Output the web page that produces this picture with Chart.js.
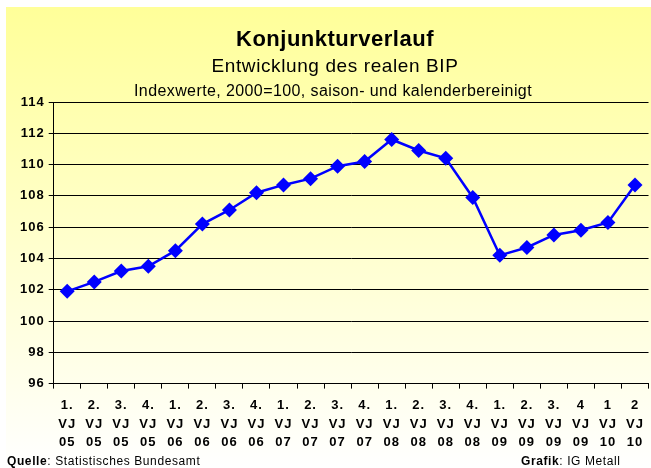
<!DOCTYPE html>
<html>
<head>
<meta charset="utf-8">
<script src="https://cdn.jsdelivr.net/npm/chart.js@4.4.1/dist/chart.umd.min.js"></script>
<style>
  html, body { margin: 0; padding: 0; background: #fff; }
  #wrap { width: 651px; height: 468px; }
</style>
</head>
<body>
<div id="wrap"><canvas id="bipChart" width="651" height="468"></canvas></div>
<script>
// ===== Data =====
const quarters = [
  ["1.", "VJ", "05"], ["2.", "VJ", "05"], ["3.", "VJ", "05"], ["4.", "VJ", "05"],
  ["1.", "VJ", "06"], ["2.", "VJ", "06"], ["3.", "VJ", "06"], ["4.", "VJ", "06"],
  ["1.", "VJ", "07"], ["2.", "VJ", "07"], ["3.", "VJ", "07"], ["4.", "VJ", "07"],
  ["1.", "VJ", "08"], ["2.", "VJ", "08"], ["3.", "VJ", "08"], ["4.", "VJ", "08"],
  ["1.", "VJ", "09"], ["2.", "VJ", "09"], ["3.", "VJ", "09"], ["4", "VJ", "09"],
  ["1", "VJ", "10"], ["2", "VJ", "10"]
];
const bipIndex = [
  101.9, 102.5, 103.2, 103.5, 104.5, 106.2, 107.1, 108.2,
  108.7, 109.1, 109.9, 110.2, 111.6, 110.9, 110.4, 107.9,
  104.2, 104.7, 105.5, 105.8, 106.3, 108.7
];
const yMin = 96, yMax = 114, yStep = 2;

const titleText = "Konjunkturverlauf";
const subText = "Entwicklung des realen BIP";
const noteText = "Indexwerte, 2000=100, saison- und kalenderbereinigt";

const FONT = "'Liberation Sans', Arial, sans-serif";

/* =========================
   Background + texts
========================= */
const decor = {
  id: "decor",
  beforeDraw(chart) {
    const { ctx, width, height } = chart;
    ctx.save();
    ctx.fillStyle = "#fff";
    ctx.fillRect(0, 0, width, height);
    const g = ctx.createLinearGradient(0, 7, 0, height);
    g.addColorStop(0, "#ffff99");
    g.addColorStop(1, "#ffffff");
    ctx.fillStyle = g;
    ctx.fillRect(6, 7, width - 6, height - 7);
    ctx.restore();
    // Excel-ish wide glyphs for the axis labels
    ctx.letterSpacing = "1px";
  },
  afterDraw(chart) {
    const { ctx } = chart;
    ctx.save();
    ctx.fillStyle = "#000";
    ctx.textAlign = "center";
    ctx.textBaseline = "middle";
    ctx.letterSpacing = "0.5px";
    ctx.font = "bold 22px " + FONT;
    ctx.fillText(titleText, 335, 40);
    ctx.letterSpacing = "0.6px";
    ctx.font = "19px " + FONT;
    ctx.fillText(subText, 335, 67);
    ctx.letterSpacing = "0.4px";
    ctx.font = "16px " + FONT;
    ctx.fillText(noteText, 333, 92);

    // footer
    ctx.textAlign = "left";
    ctx.textBaseline = "alphabetic";
    ctx.letterSpacing = "0.6px";
    let x = 7;
    ctx.font = "bold 12px " + FONT;
    ctx.fillText("Quelle", x, 465);
    x += ctx.measureText("Quelle").width;
    ctx.font = "12px " + FONT;
    ctx.fillText(": Statistisches Bundesamt", x, 465);

    x = 521;
    ctx.font = "bold 12px " + FONT;
    ctx.fillText("Grafik", x, 465);
    x += ctx.measureText("Grafik").width;
    ctx.font = "12px " + FONT;
    ctx.fillText(": IG Metall", x, 465);
    ctx.restore();
  }
};

new Chart(document.getElementById("bipChart"), {
  type: "line",
  data: {
    labels: quarters,
    datasets: [{
      data: bipIndex,
      borderColor: "#0000ff",
      backgroundColor: "#0000ff",
      borderWidth: 2.5,
      pointStyle: "rectRot",
      pointRadius: 7.5,
      pointHoverRadius: 7.5,
      pointBorderWidth: 0,
      tension: 0
    }]
  },
  options: {
    responsive: false,
    animation: false,
    events: [],
    layout: {
      autoPadding: false,
      padding: { top: 102, left: 19, right: 2, bottom: 8 }
    },
    plugins: {
      legend: { display: false },
      tooltip: { enabled: false }
    },
    scales: {
      x: {
        offset: true,
        border: { color: "#000", width: 1 },
        grid: {
          offset: true,
          drawOnChartArea: false,
          drawTicks: true,
          tickLength: 5,
          color: "#000"
        },
        ticks: {
          autoSkip: false,
          maxRotation: 0,
          color: "#000",
          padding: 8,
          font: { family: FONT, size: 13, weight: "bold", lineHeight: 1.42 }
        }
      },
      y: {
        min: yMin,
        max: yMax,
        border: { color: "#000", width: 1 },
        grid: {
          color: "#000",
          lineWidth: 1,
          tickLength: 5
        },
        ticks: {
          stepSize: yStep,
          color: "#000",
          padding: 4,
          font: { family: FONT, size: 13, weight: "bold" }
        }
      }
    }
  },
  plugins: [decor]
});
</script>
</body>
</html>
